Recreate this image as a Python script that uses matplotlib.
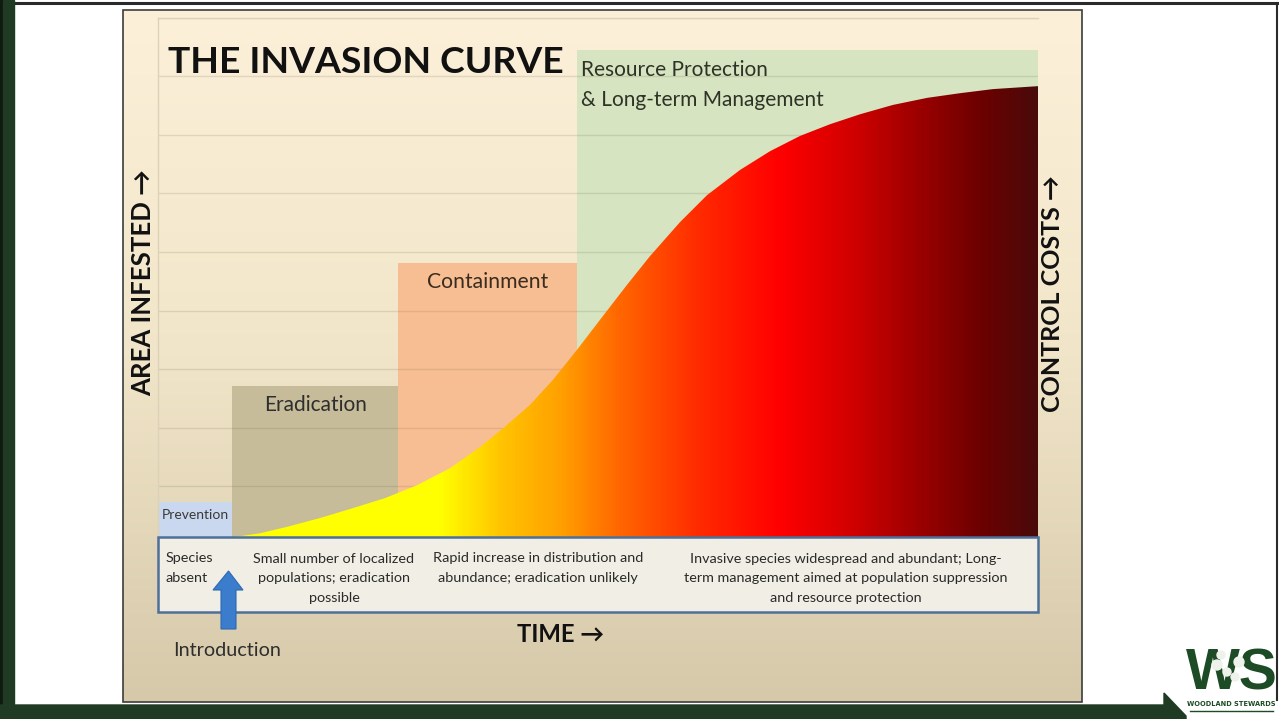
import numpy as np
import matplotlib
matplotlib.use("Agg")
import matplotlib.pyplot as plt
from matplotlib.colors import LinearSegmentedColormap, to_rgb
from matplotlib.patches import Rectangle, Polygon, Circle

# ---------------- data ----------------
stage_names = ["Prevention", "Eradication", "Containment",
               "Resource Protection\n& Long-term Management"]
stage_edges = [0.0, 8.4, 27.3, 47.6, 100.0]          # time units
stage_heights = [0.73, 2.71, 4.81, 8.45]               # area units
stage_colors = ["#c9d8ee", "#c6bc99", "#f8be93", "#d6e4c1"]

curve_time = [8.41, 11.59, 14.66, 18.41, 22.16, 25.80, 29.43, 33.18, 36.59, 39.20,
              42.27, 44.89, 47.61, 50.57, 53.30, 55.91, 59.32, 62.39, 66.14, 69.55,
              72.95, 76.36, 79.77, 83.52, 87.39, 91.14, 94.89, 100.0]
curve_area = [0.13, 0.20, 0.31, 0.46, 0.63, 0.80, 1.02, 1.31, 1.67, 1.99,
              2.39, 2.82, 3.33, 3.91, 4.44, 4.93, 5.51, 5.97, 6.40, 6.72,
              6.98, 7.18, 7.35, 7.51, 7.63, 7.71, 7.78, 7.83]

grad_time = [8.41, 32.0, 38.9, 45.7, 52.5, 61.6, 70.7, 78.6, 86.6, 93.4, 100.0]
grad_colors = ["#ffff00", "#ffff00", "#ffc400", "#ffa000", "#ff6600", "#ff2a00",
               "#ff0000", "#d40000", "#9c0000", "#6e0000", "#4a0a0a"]

grid_levels = [1, 2, 3, 4, 5, 6, 7, 8, 9]

descriptions = ["Species\nabsent",
                "Small number of localized\npopulations; eradication\npossible",
                "Rapid increase in distribution and\nabundance; eradication unlikely",
                "Invasive species widespread and abundant; Long-\nterm management aimed at population suppression\nand resource protection"]

W, H = 1279, 719
fig = plt.figure(figsize=(W / 100, H / 100), dpi=100)
fig.patch.set_facecolor("white")

FONT = ["Lato", "DejaVu Sans"]

# ---------------- background layer (pixel coords) ----------------
bg = fig.add_axes([0, 0, 1, 1], zorder=0)
bg.set_xlim(0, W); bg.set_ylim(H, 0); bg.axis("off")

top_c = np.array(to_rgb("#fcf0d9")); mid_c = np.array(to_rgb("#f1e5c9")); bot_c = np.array(to_rgb("#d6c9aa"))
ny = 256
tt = np.linspace(0, 1, ny)[:, None]
col = np.where(tt < 0.5, top_c + (mid_c - top_c) * (tt / 0.5), mid_c + (bot_c - mid_c) * ((tt - 0.5) / 0.5))
img = np.repeat(col[:, None, :], 2, axis=1)
bg.imshow(img, extent=[123, 1082, 702, 10], aspect="auto", zorder=1, interpolation="bilinear")
bg.add_patch(Rectangle((123, 10), 959, 692, fill=False, ec="#3c3c3c", lw=1.2, zorder=2))

# slide frame
bg.plot([14, W], [3, 3], color="#2a2a2a", lw=2.2, zorder=3)
bg.plot([W - 2, W - 2], [3, 700], color="#2a2a2a", lw=1.5, zorder=3)
bg.add_patch(Rectangle((0, 0), 3, H, color="#0e1a10", zorder=3))
bg.add_patch(Rectangle((3, 0), 11, H, color="#1f3b23", zorder=3))
bg.add_patch(Polygon([(0, 705), (1164, 705), (1164, 693), (1186, 716), (1186, 719), (0, 719)],
                     closed=True, color="#1f3b23", zorder=3))

# ---------------- chart axes ----------------
px_per_unit = 58.6
ax_top_px = 545 - 9 * px_per_unit
ax = fig.add_axes([158 / W, 1 - 545 / H, 880 / W, (545 - ax_top_px) / H], zorder=1)
ax.patch.set_alpha(0)
ax.set_xticks([]); ax.set_yticks([])
for s in ["right", "bottom"]:
    ax.spines[s].set_visible(False)
for s in ["left", "top"]:
    ax.spines[s].set_color("#ddd2b8"); ax.spines[s].set_linewidth(1)

lefts = stage_edges[:-1]
widths = np.diff(stage_edges)
ax.bar(lefts, stage_heights, width=widths, align="edge", color=stage_colors, zorder=1)

for g in grid_levels:
    ax.axhline(g, color="#6b5d40", alpha=0.16, lw=1.0, zorder=2)

poly_xy = list(zip(curve_time, curve_area)) + [(curve_time[-1], 0), (curve_time[0], 0)]
poly = Polygon(poly_xy, closed=True, facecolor="none", edgecolor="none")
ax.add_patch(poly)
g0, g1 = grad_time[0], grad_time[-1]
stops = [(t - g0) / (g1 - g0) for t in grad_time]
cmap = LinearSegmentedColormap.from_list("inv", list(zip(stops, grad_colors)))
grad = np.linspace(0, 1, 800)[None, :]
im = ax.imshow(grad, cmap=cmap, extent=[g0, g1, 0, 9], aspect="auto", zorder=3,
               interpolation="bilinear")
im.set_clip_path(poly)
ax.set_xlim(0, 100); ax.set_ylim(0, 9)

# stage labels (baseline of last line given in area units)
ax.text((stage_edges[1] + stage_edges[2]) / 2, 2.28, stage_names[1], ha="center", va="baseline",
        fontsize=15, color="#2e2e2e", family=FONT, zorder=4)
ax.text((stage_edges[2] + stage_edges[3]) / 2, 4.38, stage_names[2], ha="center", va="baseline",
        fontsize=15.2, color="#3a2c1e", family=FONT, zorder=4)
ax.text(stage_edges[3] + 0.5, 7.49, stage_names[3], ha="left", va="baseline",
        fontsize=15, color="#2e3326", family=FONT, zorder=4, linespacing=1.62)
ax.text((stage_edges[0] + stage_edges[1]) / 2, 0.44, stage_names[0], ha="center", va="baseline",
        fontsize=10, color="#3a3a3a", family=FONT, zorder=4)

# ---------------- overlay layer (pixel coords) ----------------
ov = fig.add_axes([0, 0, 1, 1], zorder=3)
ov.set_xlim(0, W); ov.set_ylim(H, 0); ov.axis("off"); ov.patch.set_alpha(0)

ov.add_patch(Rectangle((158, 537), 880, 75, facecolor="#f1eee5", edgecolor="#4d6f98", lw=1.8, zorder=2))
dkw = dict(va="baseline", fontsize=10.4, color="#2a2a2a", family=FONT, linespacing=1.75,
           zorder=3, multialignment="center")
ov.text(166, 582, descriptions[0], ha="left", **{**dkw, "multialignment": "left"})
ov.text(334, 602, descriptions[1], ha="center", **dkw)
ov.text(538, 582, descriptions[2], ha="center", **dkw)
ov.text(846, 602, descriptions[3], ha="center", **dkw)

ov.text(168, 73, "THE INVASION CURVE", ha="left", va="baseline", fontsize=26.8,
        fontweight="bold", color="#111111", family=FONT, zorder=3)
ov.text(561, 634, "TIME \u2192", ha="center", va="center", fontsize=17.2,
        fontweight="bold", color="#111111", family=FONT, zorder=3)
ov.text(143, 283, "AREA INFESTED \u2192", ha="center", va="center", rotation=90, fontsize=18.5,
        fontweight="bold", color="#111111", family=FONT, zorder=3)
ov.text(1053, 294, "CONTROL COSTS \u2192", ha="center", va="center", rotation=90, fontsize=18,
        fontweight="bold", color="#111111", family=FONT, zorder=3)
ov.text(227, 651, "Introduction", ha="center", va="center", fontsize=14.3,
        color="#2e2e2e", family=FONT, zorder=3)

ov.add_patch(Polygon([(221, 629), (236, 629), (236, 590), (243, 590), (228.5, 571),
                      (213, 590), (221, 590)], closed=True, facecolor="#3b7dcc",
                     edgecolor="#2e69b0", lw=0.8, zorder=3))

# logo
LOGO = "#1d4b25"
ov.text(1232, 690, "WS", ha="center", va="baseline", fontsize=41, fontweight="bold",
        color=LOGO, family=["Liberation Sans", "DejaVu Sans"], zorder=3)
for (cx, cy, r) in [(1221, 655, 4), (1217, 665, 5), (1227, 672, 4), (1239, 662, 5), (1235, 677, 4)]:
    ov.add_patch(Circle((cx, cy), r, color="#eef2ea", zorder=4))
ov.text(1231, 706, "WOODLAND STEWARDS", ha="center", va="baseline", fontsize=4.8,
        fontweight="bold", color=LOGO, family=["DejaVu Sans"], zorder=3)
ov.plot([1190, 1273], [711, 711], color=LOGO, lw=1, zorder=3)

fig.savefig("out.png", dpi=100, facecolor=fig.get_facecolor())
